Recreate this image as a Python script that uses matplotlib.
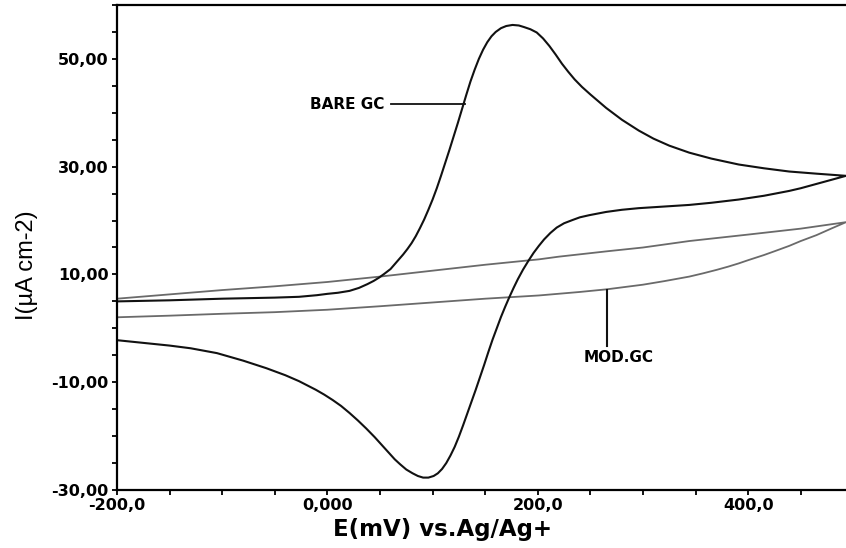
import matplotlib
matplotlib.use("Agg")
import matplotlib.pyplot as plt
from matplotlib.ticker import FixedLocator, MultipleLocator

# BARE GC cyclic voltammogram: anodic scan then return scan (mV, uA cm-2)
bare_e = [-200, -150, -100, -50, -27, -10, 0, 10, 21, 30, 38, 44, 49, 54, 60,
          64, 68, 72, 76, 80, 84, 88, 92, 96, 100, 104, 108, 112, 116, 120,
          124, 128, 132, 136, 140, 144, 148, 152, 156, 160, 165, 170, 176, 182,
          187, 193, 199, 205, 211, 217, 223, 229, 235, 242, 250, 265, 280, 296,
          310, 325, 344, 365, 391, 415, 439, 465, 493,
          480, 465, 450, 439, 415, 391, 365, 344, 320, 296, 280, 265, 249, 240,
          233, 225, 218, 212, 206, 201, 196, 191, 186, 181, 177, 173, 169, 165,
          161, 157, 153, 149, 145, 141, 137, 133, 129, 125, 121, 117, 113, 109,
          105, 101, 96, 91, 86, 81, 75, 69, 64, 58, 53, 45, 37, 29, 21, 13, 5,
          -3, -11, -19, -27, -40, -58, -80, -105, -130, -150, -175, -200]
bare_i = [5.0, 5.2, 5.5, 5.7, 5.85, 6.15, 6.4, 6.6, 6.95, 7.5, 8.2, 8.8, 9.4,
          10.1, 11.0, 11.9, 12.8, 13.7, 14.7, 15.8, 17.1, 18.6, 20.2, 22.0,
          23.9, 26.0, 28.3, 30.7, 33.1, 35.6, 38.1, 40.7, 43.3, 45.8, 48.0,
          50.0, 51.7, 53.1, 54.2, 55.0, 55.7, 56.1, 56.3, 56.2, 55.9, 55.5,
          54.9, 53.8, 52.4, 50.8, 49.1, 47.6, 46.2, 44.8, 43.4, 40.9, 38.7,
          36.7, 35.2, 33.9, 32.6, 31.5, 30.4, 29.7, 29.1, 28.7, 28.3,
          27.6, 26.8, 26.0, 25.5, 24.6, 23.9, 23.3, 22.9, 22.6, 22.3, 22.0,
          21.6, 21.0, 20.6, 20.1, 19.5, 18.7, 17.7, 16.5, 15.3, 14.0, 12.5,
          10.9, 9.1, 7.5, 5.8, 4.0, 2.1, 0.0, -2.1, -4.4, -6.8, -9.1, -11.4,
          -13.6, -15.8, -18.0, -20.1, -22.0, -23.6, -25.0, -26.1, -26.9,
          -27.4, -27.7, -27.7, -27.4, -26.9, -26.2, -25.2, -24.3, -23.0,
          -21.9, -20.2, -18.6, -17.1, -15.7, -14.4, -13.3, -12.3, -11.4,
          -10.6, -9.8, -8.7, -7.4, -6.0, -4.6, -3.7, -3.2, -2.7, -2.2]

# MOD.GC voltammogram
mod_e = [-200, -150, -100, -50, 0, 50, 100, 150, 201, 220, 266, 300, 344, 400,
         450, 493,
         480, 465, 450, 439, 425, 415, 400, 391, 381, 370, 357, 344, 320, 300,
         266, 240, 201, 150, 100, 50, 0, -50, -100, -150, -200]
mod_i = [5.5, 6.3, 7.1, 7.8, 8.6, 9.6, 10.7, 11.8, 12.8, 13.3, 14.3, 15.0,
         16.2, 17.4, 18.5, 19.7,
         18.6, 17.3, 16.2, 15.3, 14.3, 13.6, 12.65, 12.05, 11.45, 10.85, 10.2,
         9.6, 8.75, 8.1, 7.25, 6.75, 6.1, 5.5, 4.8, 4.1, 3.45, 3.0, 2.7, 2.35,
         2.05]

xticks = [-200, 0, 200, 400]
xlabels = ["-200,0", "0,000", "200,0", "400,0"]
yticks = [-30, -10, 10, 30, 50]
ylabels = ["-30,00", "-10,00", "10,00", "30,00", "50,00"]

fig = plt.figure(figsize=(8.46, 5.48), dpi=100)
ax = fig.add_axes([117 / 846, 1 - 490 / 548, 1 - 117 / 846, 485 / 548])

ax.plot(mod_e, mod_i, color="#6a6a6a", lw=1.3)
ax.plot(bare_e, bare_i, color="#111111", lw=1.5)

# curve labels
ax.plot([60, 131], [41.6, 41.6], color="#111111", lw=1.3)
ax.text(54, 41.6, "BARE GC", ha="right", va="center", fontsize=11,
        fontweight="bold", family="DejaVu Sans")
ax.plot([266, 266], [7.2, -3.2], color="#111111", lw=1.5)
ax.text(277, -5.5, "MOD.GC", ha="center", va="center", fontsize=11,
        fontweight="bold", family="DejaVu Sans")

ax.set_xlim(-200, 493)
ax.set_ylim(-30, 60)
ax.xaxis.set_major_locator(FixedLocator(xticks))
ax.set_xticklabels(xlabels)
ax.xaxis.set_minor_locator(MultipleLocator(50))
ax.yaxis.set_major_locator(FixedLocator(yticks))
ax.set_yticklabels(ylabels)
ax.yaxis.set_minor_locator(MultipleLocator(5))

ax.tick_params(which="both", direction="out", length=3.5, width=1.3,
               labelsize=11.5, pad=2.5)
for lab in ax.get_xticklabels() + ax.get_yticklabels():
    lab.set_fontweight("bold")
    lab.set_family("DejaVu Sans")

for side in ["left", "bottom", "top"]:
    ax.spines[side].set_linewidth(1.6)
ax.spines["right"].set_visible(False)

ax.set_xlabel("E(mV) vs.Ag/Ag+", fontsize=16.5, fontweight="bold",
              family="DejaVu Sans")
ax.xaxis.set_label_coords(0.447, -0.058)
ax.set_ylabel("I(µA cm-2)", fontsize=17, family="Liberation Sans")
ax.yaxis.set_label_coords(-0.108, 0.463)

fig.savefig("out.png", dpi=100)
